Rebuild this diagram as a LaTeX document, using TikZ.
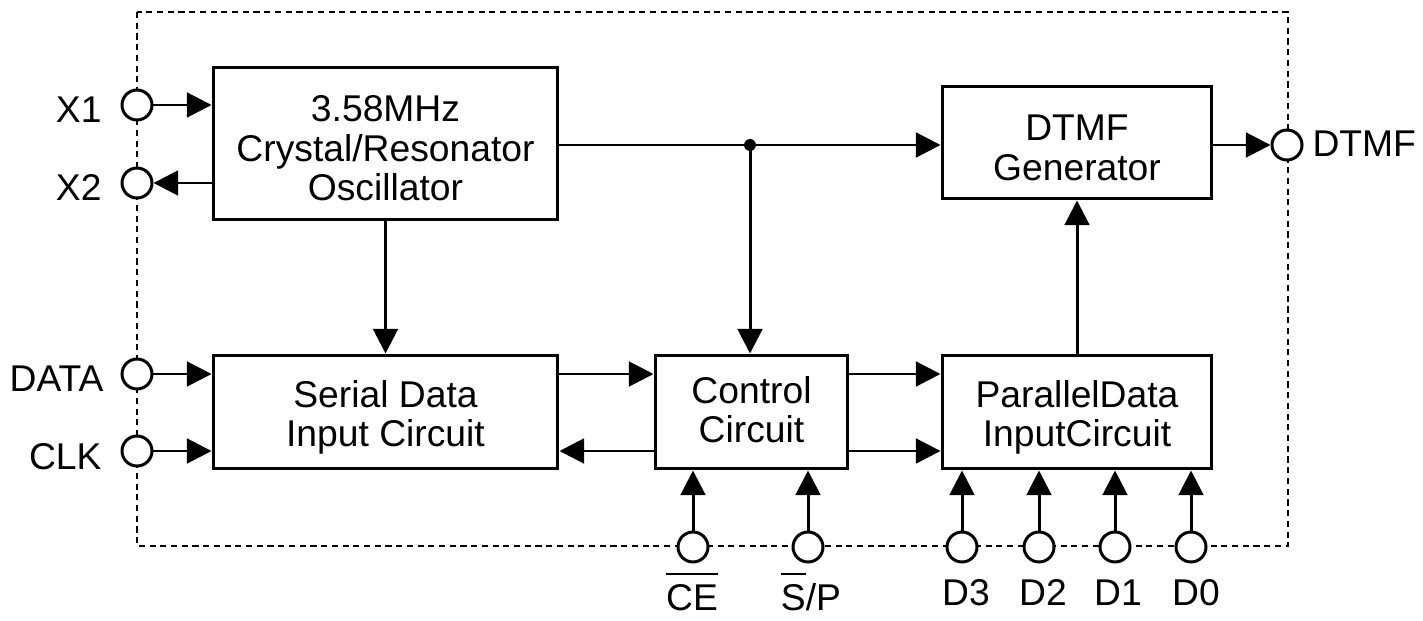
\documentclass[tikz,border=0pt]{standalone}
\usepackage{fontspec}
\setmainfont{Liberation Sans}
\usetikzlibrary{arrows.meta}

\newcommand\barsig[1]{\leavevmode\vbox{\hrule height 1.1pt\kern5pt\hbox{#1}}}
\newcommand\blk[1]{\begin{tabular}[t]{@{}c@{}}#1\end{tabular}}

\begin{document}
\begin{tikzpicture}[x=0.02cm, y=-0.02cm, line width=1.7pt,
          block/.style={draw, inner sep=0pt, text height=0pt,
            font=\fontsize{21.2}{22.2}\selectfont},
          pin/.style={draw, circle, fill=white, minimum size=0.6cm, inner sep=0pt},
          sig/.style={-{Triangle[length=14pt, width=14pt]}},
          lbl/.style={font=\fontsize{21.2}{24}\selectfont, inner sep=0pt},
        ]
          \useasboundingbox (0,0) rectangle (1423,621);
          % chip outline
          \draw[line width=1.2pt, dash pattern=on 3.5pt off 2.6pt] (137,12) rectangle (1288,546);
          % blocks
          \node[block, minimum width=6.9cm, minimum height=3.06cm, text depth=0.86cm]
            (osc) at (385.5,143.5) {\blk{3.58MHz\\Crystal/Resonator\\Oscillator}};
          \node[block, minimum width=5.4cm, minimum height=2.26cm, text depth=0.06cm]
            (gen) at (1077,142.5) {\blk{DTMF\\Generator}};
          \node[block, minimum width=6.9cm, minimum height=2.28cm, text depth=0.2cm]
            (ser) at (385.5,412) {\blk{Serial Data\\Input Circuit}};
          \node[block, minimum width=3.86cm, minimum height=2.28cm, text depth=0.34cm]
            (ctrl) at (751.5,412) {\blk{Control\\Circuit}};
          \node[block, minimum width=5.4cm, minimum height=2.28cm, text depth=0.2cm]
            (par) at (1077,412) {\blk{ParallelData\\InputCircuit}};
          % pins
          \node[pin] (x1)   at (137,105) {};
          \node[pin] (x2)   at (137,183) {};
          \node[pin] (data) at (137,374) {};
          \node[pin] (clk)  at (137,451) {};
          \node[pin] (dtmf) at (1287,145) {};
          \node[pin] (ce)   at (693,547) {};
          \node[pin] (sp)   at (808,547) {};
          \node[pin] (d3)   at (962,547) {};
          \node[pin] (d2)   at (1039,547) {};
          \node[pin] (d1)   at (1115,547) {};
          \node[pin] (d0)   at (1191,547) {};
          \coordinate (split) at (750,145);
          % signals
          \draw[sig] (x1) -- (osc.west |- x1);
          \draw[sig] (osc.west |- x2) -- (x2);
          \draw[sig] (data) -- (ser.west |- data);
          \draw[sig] (clk) -- (ser.west |- clk);
          \draw[sig] (osc.east |- split) -- (gen.west |- split);
          \draw[sig] (split) -- (ctrl.north -| split);
          \fill (split) circle (3.4pt);
          \draw[sig] (osc.south) -- (ser.north);
          \draw[sig] (gen.east |- dtmf) -- (dtmf);
          \draw[sig] (ser.east |- data) -- (ctrl.west |- data);
          \draw[sig] (ctrl.west |- clk) -- (ser.east |- clk);
          \draw[sig] (ctrl.east |- data) -- (par.west |- data);
          \draw[sig] (ctrl.east |- clk) -- (par.west |- clk);
          \draw[sig] (par.north) -- (gen.south);
          \draw[sig] (ce) -- (ctrl.south -| ce);
          \draw[sig] (sp) -- (ctrl.south -| sp);
          \draw[sig] (d3) -- (par.south -| d3);
          \draw[sig] (d2) -- (par.south -| d2);
          \draw[sig] (d1) -- (par.south -| d1);
          \draw[sig] (d0) -- (par.south -| d0);
          % pin names
          \node[lbl, anchor=base east] (lx1)   at (103,123) {X1};
          \node[lbl, anchor=base east] (lx2)   at (103,201) {X2};
          \node[lbl, anchor=base east] (ldata) at (105,392) {DATA};
          \node[lbl, anchor=base east] (lclk)  at (103,469) {CLK};
          \node[lbl, anchor=base west] (ldtmf) at (1311,157) {DTMF};
          \node[lbl, anchor=base] (lce) at (692,610) {\barsig{CE}};
          \node[lbl, anchor=base] (lsp) at (811,610) {\barsig{S}/P};
          \node[lbl, anchor=base] (ld3) at (966,605) {D3};
          \node[lbl, anchor=base] (ld2) at (1043,605) {D2};
          \node[lbl, anchor=base] (ld1) at (1118,605) {D1};
          \node[lbl, anchor=base] (ld0) at (1196,605) {D0};
        \end{tikzpicture}
\end{document}
